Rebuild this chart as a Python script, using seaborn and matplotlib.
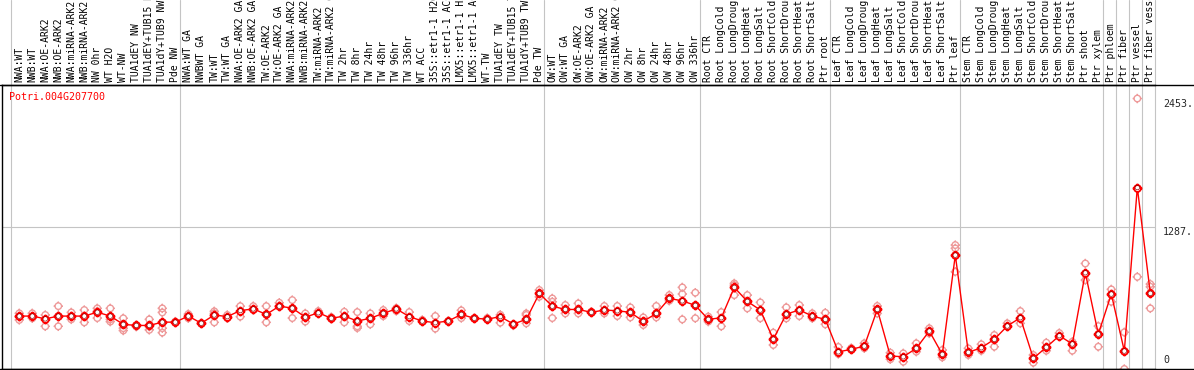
import matplotlib
matplotlib.use("Agg")
import matplotlib.pyplot as plt
from matplotlib.path import Path
from matplotlib.lines import Line2D
import seaborn as sns
import pandas as pd

samples = [
    "NWA:WT", "NWB:WT", "NWA:OE-ARK2", "NWB:OE-ARK2", "NWA:miRNA-ARK2", "NWB:miRNA-ARK2",
    "NW 0hr", "WT H2O", "WT-NW", "TUA1dEY NW", "TUA1dEY+TUB15 NW", "TUA1dY+TUB9 NW", "Pde NW",
    "NWA:WT GA", "NWBWT GA", "TW:WT", "TW:WT GA", "NWA:OE-ARK2 GA", "NWB:OE-ARK2 GA",
    "TW:OE-ARK2", "TW:OE-ARK2 GA", "NWA:miRNA-ARK2 GA", "NWB:miRNA-ARK2 GA", "TW:miRNA-ARK2",
    "TW:miRNA-ARK2 GA", "TW 2hr", "TW 8hr", "TW 24hr", "TW 48hr", "TW 96hr", "TW 336hr",
    "WT ACC", "35S::etr1-1 H2O", "35S::etr1-1 ACC", "LMX5::etr1-1 H2O", "LMX5::etr1-1 ACC",
    "WT-TW", "TUA1dEY TW", "TUA1dEY+TUB15 TW", "TUA1dY+TUB9 TW", "Pde TW",
    "OW:WT", "OW:WT GA", "OW:OE-ARK2", "OW:OE-ARK2 GA", "OW:miRNA-ARK2", "OW:miRNA-ARK2 GA",
    "OW 2hr", "OW 8hr", "OW 24hr", "OW 48hr", "OW 96hr", "OW 336hr",
    "Root CTR", "Root LongCold", "Root LongDrought", "Root LongHeat", "Root LongSalt",
    "Root ShortCold", "Root ShortDrought", "Root ShortHeat", "Root ShortSalt", "Ptr root",
    "Leaf CTR", "Leaf LongCold", "Leaf LongDrought", "Leaf LongHeat", "Leaf LongSalt",
    "Leaf ShortCold", "Leaf ShortDrought", "Leaf ShortHeat", "Leaf ShortSalt", "Ptr leaf",
    "Stem CTR", "Stem LongCold", "Stem LongDrought", "Stem LongHeat", "Stem LongSalt",
    "Stem ShortCold", "Stem ShortDrought", "Stem ShortHeat", "Stem ShortSalt", "Ptr shoot",
    "Ptr xylem", "Ptr phloem", "Ptr fiber", "Ptr vessel", "Ptr fiber vessel",
]

means = [
    480, 480, 455, 480, 480, 480, 515, 480, 405, 395, 395, 425, 425,
    480, 415, 490, 475, 530, 545, 495, 570, 552, 470, 510, 460, 480, 435, 460, 505, 545, 475,
    435, 420, 435, 495, 460, 452, 475, 408, 450, 685,
    570, 540, 540, 514, 535, 528, 514, 432, 504, 640, 618, 577,
    450, 465, 740, 613, 535, 270, 498, 535, 480, 450,
    156, 178, 208, 540, 118, 111, 188, 344, 133, 1033,
    151, 193, 269, 390, 465, 97, 197, 302, 227, 873,
    317, 680, 163, 1646, 686,
]

replicates = [
    [505, 475, 445], [505, 460], [490, 387], [570, 387, 480], [513, 475, 450], [535, 480, 423],
    [550, 523, 462], [550, 450, 430], [460, 370, 349], [396, 384], [450, 355, 384],
    [550, 513, 370, 330, 423], [423, 430],
    [498, 460], [414], [523, 423, 504], [490, 460], [570, 475], [570, 535], [570, 423],
    [601, 570], [625, 462], [504, 430], [525, 505], [470, 455], [519, 423], [516, 387, 372],
    [504, 405], [535, 480], [552, 526], [516, 435],
    [445], [480, 366], [435], [532, 462], [460], [462], [492, 420], [395], [504, 490, 414],
    [716, 655],
    [640, 610, 462], [580, 504], [595, 504], [519], [571, 504], [571, 480], [559, 468],
    [468, 399], [571, 468], [670, 619], [740, 680, 450], [692, 460],
    [475, 430], [516, 387], [776, 760, 670], [670, 550], [604, 460], [330, 218], [559, 459],
    [580, 480], [505, 460], [510, 405],
    [200, 136], [190], [233, 188], [571, 504], [148, 88], [142, 66], [233, 157], [369, 323],
    [172, 106], [1124, 1094, 882],
    [187, 127], [224, 166], [308, 202], [414], [525, 414], [127, 57], [239, 166], [326],
    [247, 166], [957, 806],
    [389, 202], [722, 610], [333, 0], [2453, 836], [770, 746, 550],
]

group_starts = [0, 13, 41, 53, 63, 73, 84, 85, 86, 87, 88]
gene = "Potri.004G207700"

pos = list(range(len(samples)))
df_mean = pd.DataFrame({"pos": pos, "expr": means})
df_rep = pd.DataFrame(
    [(i, v) for i, vals in enumerate(replicates) for v in vals], columns=["pos", "expr"]
)

sns.set_theme(style="white")
plt.rcParams["font.family"] = ["DejaVu Sans Mono", "DejaVu Sans"]

# circle with little ticks sticking out
circ = Path.unit_circle()
verts = list(circ.vertices)
codes = list(circ.codes)
for a, b in [((0, 1), (0, 1.45)), ((0, -1), (0, -1.45)), ((1, 0), (1.45, 0)), ((-1, 0), (-1.45, 0))]:
    verts += [a, b]
    codes += [Path.MOVETO, Path.LINETO]
tick_marker = Path(verts, codes)

pink = "#ee9a9a"
grey = "#c4c4c4"

fig = plt.figure(figsize=(11.94, 3.70), dpi=100)
ax = fig.add_axes([2 / 1194, 1 / 370, 1153 / 1194, 284 / 370])

sns.scatterplot(data=df_rep, x="pos", y="expr", marker=tick_marker, s=46,
                color=pink, facecolor="none", edgecolor=pink, linewidth=1.0,
                legend=False, ax=ax, zorder=2)
sns.lineplot(data=df_mean, x="pos", y="expr", color="red", linewidth=1.0, ax=ax, zorder=3)
sns.scatterplot(data=df_mean, x="pos", y="expr", marker=tick_marker, s=50,
                color="red", facecolor="white", edgecolor="red", linewidth=1.3,
                legend=False, ax=ax, zorder=4)
sns.scatterplot(data=df_mean, x="pos", y="expr", marker="o", s=11,
                color="#8a0000", facecolor="none", edgecolor="#8a0000", linewidth=0.45,
                legend=False, ax=ax, zorder=5)

ax.set_xlim(-1.33, 87.36)
ymax = 2453
ax.set_ylim(0, ymax * 1.05)

for g in group_starts:
    ax.axvline(g - 0.62, ymin=0, ymax=369 / 284, color=grey, lw=0.8, clip_on=False, zorder=1)
ax.axhline(ymax * 1.05 / 2, color=grey, lw=0.8, zorder=1)

ax.set_xticks(pos)
ax.set_xticklabels(samples)
ax.xaxis.tick_top()
ax.tick_params(axis="x", length=0, pad=2, labelrotation=90, labelsize=7, colors="black")
ax.set_yticks([])
ax.set_xlabel("")
ax.set_ylabel("")

for side in ["top", "bottom", "left"]:
    ax.spines[side].set_color("black")
    ax.spines[side].set_linewidth(1.0)
ax.spines["right"].set_visible(False)

fig.add_artist(Line2D([0, 1], [285 / 370, 285 / 370], color="black", lw=1.0))
fig.add_artist(Line2D([0, 1], [1.2 / 370, 1.2 / 370], color="black", lw=1.0))

rt = ax.get_yaxis_transform()
ax.text(1 + 8 / 1153, ymax, "2453.", transform=rt, va="top", ha="left", fontsize=7.2, clip_on=False)
ax.text(1 + 8 / 1153, ymax * 1.05 / 2, "1287.", transform=rt, va="top", ha="left", fontsize=7.2, clip_on=False)
ax.text(1 + 8 / 1153, 40, "0", transform=rt, va="bottom", ha="left", fontsize=7.2, clip_on=False)

ax.text(7 / 1153, 0.975, gene, transform=ax.transAxes, color="red", fontsize=7.2, va="top", ha="left")

fig.savefig("out.png", dpi=100)
